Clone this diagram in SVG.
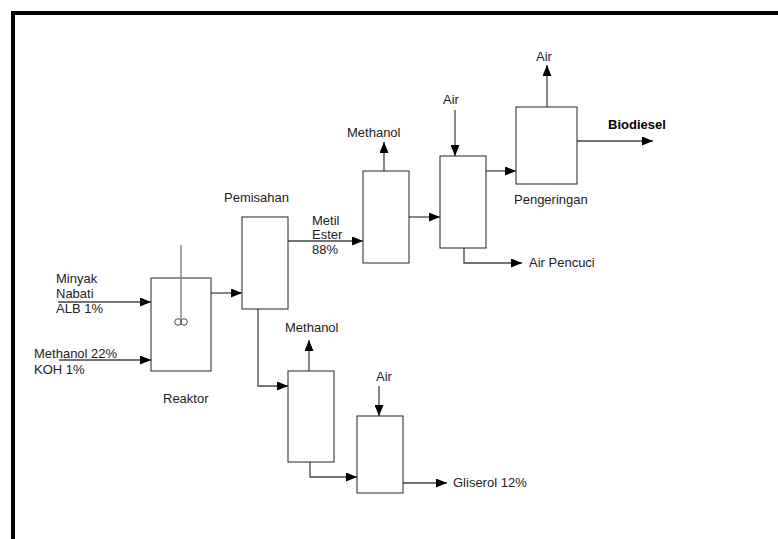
<svg xmlns="http://www.w3.org/2000/svg" width="778" height="539" viewBox="0 0 778 539">
<style>
.box{fill:#fff;stroke:#222;stroke-width:1}
.ln{fill:none;stroke:#444;stroke-width:1.3}
.t{font-family:"Liberation Sans",Arial,sans-serif;font-size:13px;fill:#222}
.b{font-weight:bold;fill:#000}
</style>
<defs>
<marker id="ah" markerWidth="11" markerHeight="9" refX="11" refY="4.5" orient="auto" markerUnits="userSpaceOnUse">
<path d="M0,0 L11,4.5 L0,9 Z" fill="#000"/>
</marker>
</defs>
<rect width="778" height="539" fill="#fff"/>
<path d="M13,539 V13 H778" fill="none" stroke="#000" stroke-width="4"/>

<g id="connectors">
<line class="ln" x1="58" y1="302" x2="151" y2="302" marker-end="url(#ah)"/>
<line class="ln" x1="59" y1="360" x2="151" y2="360" marker-end="url(#ah)"/>
<line class="ln" x1="211" y1="293" x2="242" y2="293" marker-end="url(#ah)"/>
<line class="ln" x1="288" y1="241" x2="363" y2="241" marker-end="url(#ah)"/>
<polyline class="ln" points="258,309 258,386 288,386" marker-end="url(#ah)"/>
<line class="ln" x1="384" y1="171" x2="384" y2="142" marker-end="url(#ah)"/>
<line class="ln" x1="409" y1="217" x2="440" y2="217" marker-end="url(#ah)"/>
<line class="ln" x1="455" y1="110" x2="455" y2="156" marker-end="url(#ah)"/>
<polyline class="ln" points="464,248 464,263 522,263" marker-end="url(#ah)"/>
<line class="ln" x1="486" y1="171" x2="516" y2="171" marker-end="url(#ah)"/>
<line class="ln" x1="547" y1="110" x2="547" y2="65" marker-end="url(#ah)"/>
<line class="ln" x1="577" y1="141" x2="653" y2="141" marker-end="url(#ah)"/>
<line class="ln" x1="309" y1="371" x2="309" y2="340" marker-end="url(#ah)"/>
<polyline class="ln" points="310,462 310,477 357,477" marker-end="url(#ah)"/>
<line class="ln" x1="379" y1="386" x2="379" y2="416" marker-end="url(#ah)"/>
<line class="ln" x1="402" y1="483" x2="447" y2="483" marker-end="url(#ah)"/>
</g>

<g id="feed-minyak">
<text class="t" x="56" y="283">Minyak</text>
<text class="t" x="56" y="298">Nabati</text>
<text class="t" x="56" y="313">ALB 1%</text>
</g>
<g id="feed-methanol">
<text class="t" x="34" y="358">Methanol 22%</text>
<text class="t" x="34" y="374">KOH 1%</text>
</g>

<g id="reaktor">
<rect class="box" x="151" y="278" width="60" height="93"/>
<line x1="181" y1="245" x2="181" y2="319" stroke="#777" stroke-width="1.3"/>
<circle cx="178" cy="322" r="3.3" fill="none" stroke="#333" stroke-width="0.9"/>
<circle cx="184" cy="322" r="3.3" fill="none" stroke="#333" stroke-width="0.9"/>
<text class="t" x="163" y="403">Reaktor</text>
</g>

<g id="pemisahan">
<rect class="box" x="242" y="217" width="46" height="92"/>
<text class="t" x="224" y="202">Pemisahan</text>
</g>

<g id="metil-ester">
<text class="t" x="312" y="225">Metil</text>
<text class="t" x="312" y="239">Ester</text>
<text class="t" x="312" y="254">88%</text>
</g>

<g id="methanol-upper">
<rect class="box" x="363" y="171" width="46" height="92"/>
<text class="t" x="347" y="137">Methanol</text>
</g>

<g id="pencucian">
<rect class="box" x="440" y="156" width="46" height="92"/>
<text class="t" x="443" y="104">Air</text>
<text class="t" x="529" y="267">Air Pencuci</text>
</g>

<g id="pengeringan">
<rect class="box" x="516" y="107" width="61" height="77"/>
<text class="t" x="536" y="61">Air</text>
<text class="t" x="514" y="204">Pengeringan</text>
<text class="t b" x="608" y="129">Biodiesel</text>
</g>

<g id="methanol-lower">
<rect class="box" x="288" y="371" width="46" height="91"/>
<text class="t" x="285" y="332">Methanol</text>
</g>

<g id="air-lower">
<rect class="box" x="357" y="416" width="46" height="77"/>
<text class="t" x="376" y="381">Air</text>
<text class="t" x="453" y="487">Gliserol 12%</text>
</g>
</svg>
